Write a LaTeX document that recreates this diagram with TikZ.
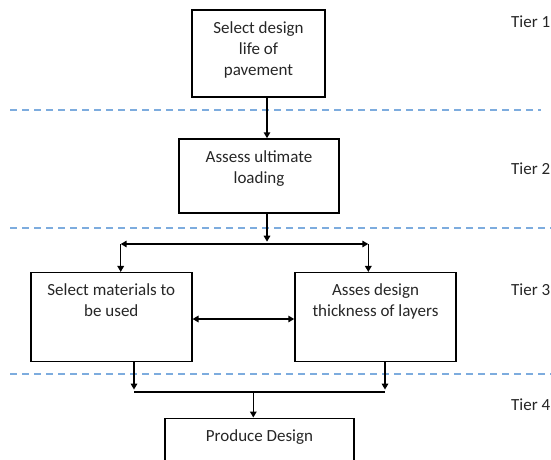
\documentclass[tikz,border=0pt]{standalone}
\usepackage{fontspec}
\setmainfont{Carlito}
\usetikzlibrary{arrows.meta}
\definecolor{tierblue}{RGB}{125,172,222}

\begin{document}
\begin{tikzpicture}[x=1pt,y=-1pt,
	>={Triangle[length=6pt,width=6.5pt]},
	box/.style={draw,line width=1.5pt,inner sep=0pt},
	boxtext/.style={align=center,anchor=north,inner sep=0pt,yshift=-12pt,
		font=\fontsize{17}{21}\selectfont,text=black!85},
	tier/.style={anchor=west,inner sep=0pt,font=\fontsize{17}{21}\selectfont,text=black!85},
	arr/.style={line width=1.5pt,->},
	darr/.style={line width=1.5pt,<->},
	divider/.style={draw=tierblue,line width=1.2pt,dash pattern=on 7pt off 5pt}]
	\useasboundingbox (0,0) rectangle (551,460);
	% tier dividers
	\draw[divider] (10,110) -- (541,110);
	\draw[divider] (10,228) -- (551,228);
	\draw[divider] (10,374) -- (551,374);
	% boxes
	\node[box,minimum width=133pt,minimum height=87pt,
		label={[boxtext]north:Select design\\life of\\pavement}] (life) at (258.5,53.5) {};
	\node[box,minimum width=160pt,minimum height=74pt,
		label={[boxtext]north:Assess ultimate\\loading}] (load) at (259,176) {};
	\node[box,minimum width=161pt,minimum height=89pt,
		label={[boxtext]north:Select materials to\\be used}] (mat) at (111.3,317.2) {};
	\node[box,minimum width=161pt,minimum height=89pt,
		label={[boxtext]north:Asses design\\thickness of layers}] (thk) at (375.5,317.2) {};
	\node[box,minimum width=189pt,minimum height=60pt,
		label={[boxtext]north:Produce Design}] (prod) at (259.5,448.3) {};
	% tiers
	\node[tier] (t1) at (511,22) {Tier 1};
	\node[tier] (t2) at (511,169) {Tier 2};
	\node[tier] (t3) at (511,290) {Tier 3};
	\node[tier] (t4) at (511,405) {Tier 4};
	% connectors
	\coordinate (split) at (267,244);
	\coordinate (sl) at (120.7,244);
	\coordinate (sr) at (368.3,244);
	\coordinate (mid) at (243,319);
	\coordinate (jl) at (134,392);
	\coordinate (jr) at (385,392);
	\coordinate (join) at (253.3,392);
	\draw[arr] (life.south -| split) -- (load.north -| split);
	\draw[arr] (load.south -| split) -- ([yshift=2.3pt]split);
	\draw[darr] (sl) -- (sr);
	\draw[arr] (sl) -- (mat.north -| sl);
	\draw[arr] (sr) -- (thk.north -| sr);
	\draw[darr] (mat.east |- mid) -- (thk.west |- mid);
	\draw[arr] (mat.south -| jl) -- ([yshift=2.4pt]jl);
	\draw[arr] (thk.south -| jr) -- ([yshift=2.4pt]jr);
	\draw[line width=1.5pt] (jl) -- (jr);
	\draw[arr] (join) -- (prod.north -| join);
\end{tikzpicture}
\end{document}
